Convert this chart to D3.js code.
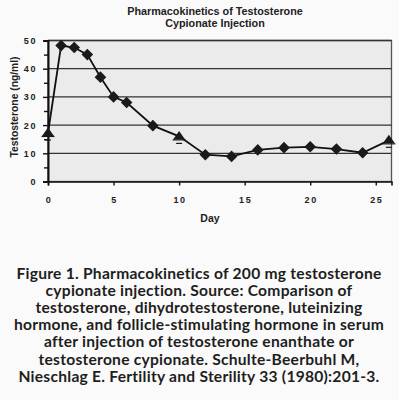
<!DOCTYPE html>
<html>
<head>
<meta charset="utf-8">
<script src="https://cdn.jsdelivr.net/npm/d3@7"></script>
<style>
  html, body { margin: 0; padding: 0; background: #fafafa; }
  svg { display: block; }
</style>
</head>
<body>
<svg id="chart" width="399" height="400"></svg>
<script>
// datos
const dias = [0, 1, 2, 3, 4, 5, 6, 8, 10, 12, 14, 16, 18, 20, 22, 24, 26];
const testosterona = [17.2, 48.2, 47.5, 45.0, 37.0, 30.0, 28.0, 19.8, 16.0, 9.5, 8.9, 11.2, 12.0, 12.3, 11.5, 10.2, 14.6];
const diasTriangulo = [0, 10, 26];
const ticksY = [0, 10, 20, 30, 40, 50];
const ticksYMenores = [5, 15, 25, 35, 45];
const ticksX = [0, 5, 10, 15, 20, 25];
const titulo = ["Pharmacokinetics of Testosterone", "Cypionate Injection"];
const leyenda = [
  "Figure 1. Pharmacokinetics of 200 mg testosterone",
  "cypionate injection. Source: Comparison of",
  "testosterone, dihydrotestosterone, luteinizing",
  "hormone, and follicle-stimulating hormone in serum",
  "after injection of testosterone enanthate or",
  "testosterone cypionate. Schulte-Beerbuhl M,",
  "Nieschlag E. Fertility and Sterility 33 (1980):201-3."
];

const svg = d3.select("#chart");
const x = d3.scaleLinear().domain([0, 26.2]).range([48, 391.5]);
const y = d3.scaleLinear().domain([0, 50]).range([181.5, 40.5]);

// fondo del area de trazado
svg.append("rect")
  .attr("x", x(0)).attr("y", y(50))
  .attr("width", x(26.2) - x(0)).attr("height", y(0) - y(50))
  .attr("fill", "#ebebeb")
  .attr("stroke", "#555").attr("stroke-width", 1.3);

// lineas de cuadricula
svg.selectAll(".grid").data(ticksY.filter(d => d > 0)).enter().append("line")
  .attr("class", "grid")
  .attr("x1", x(0)).attr("x2", x(26.2))
  .attr("y1", d => y(d)).attr("y2", d => y(d))
  .attr("stroke", "#333").attr("stroke-width", 1.3);

// ejes
svg.append("g").attr("transform", "translate(" + x(0) + ",0)")
  .call(d3.axisLeft(y).tickValues(ticksY).tickSize(5).tickFormat(""));
svg.append("g").attr("transform", "translate(" + x(0) + ",0)")
  .call(d3.axisLeft(y).tickValues(ticksYMenores).tickSize(4).tickFormat(""));
svg.append("g").attr("transform", "translate(0," + y(0) + ")")
  .call(d3.axisBottom(x).tickValues(ticksX).tickSize(4).tickFormat(""));
svg.selectAll(".domain").attr("stroke", "#111").attr("stroke-width", 1.6);
svg.selectAll(".tick line").attr("stroke", "#111").attr("stroke-width", 1.4);

// etiquetas de ticks
svg.selectAll(".ylab").data(ticksY).enter().append("text")
  .attr("x", 37).attr("y", d => y(d) + 3.5)
  .attr("text-anchor", "end")
  .style("font", "bold 9px 'Liberation Sans', Arial, sans-serif")
  .style("letter-spacing", "1.6px")
  .attr("fill", "#222")
  .text(d => d);

svg.selectAll(".xlab").data(ticksX).enter().append("text")
  .attr("x", d => x(d) + 1).attr("y", 203)
  .attr("text-anchor", "middle")
  .style("font", "bold 9px 'Liberation Sans', Arial, sans-serif")
  .style("letter-spacing", "1.6px")
  .attr("fill", "#222")
  .text(d => d);

// titulos de ejes
svg.append("text")
  .attr("transform", "translate(18,107) rotate(-90)")
  .attr("text-anchor", "middle")
  .style("font", "bold 10.3px 'Liberation Sans', Arial, sans-serif")
  .attr("fill", "#222")
  .text("Testosterone (ng/ml)");

svg.append("text")
  .attr("x", 210).attr("y", 222)
  .attr("text-anchor", "middle")
  .style("font", "bold 10.5px 'Liberation Sans', Arial, sans-serif")
  .attr("fill", "#222")
  .text("Day");

// titulo
svg.selectAll(".titulo").data(titulo).enter().append("text")
  .attr("x", 215).attr("y", (d, i) => 15 + i * 11.5)
  .attr("text-anchor", "middle")
  .style("font", "bold 10.8px 'Liberation Sans', Arial, sans-serif")
  .attr("fill", "#222")
  .text(d => d);

// serie
const puntos = dias.map((d, i) => ({ dia: d, valor: testosterona[i] }));
const linea = d3.line().x(d => x(d.dia)).y(d => y(d.valor));
svg.append("path")
  .datum(puntos)
  .attr("d", linea)
  .attr("fill", "none")
  .attr("stroke", "#111")
  .attr("stroke-width", 1.8);

const rombos = puntos.filter(d => !diasTriangulo.includes(d.dia));
const triangulos = puntos.filter(d => diasTriangulo.includes(d.dia));

svg.selectAll(".rombo").data(rombos).enter().append("path")
  .attr("class", "rombo")
  .attr("transform", d => "translate(" + x(d.dia) + "," + y(d.valor) + ")")
  .attr("d", "M0,-5.8L5.8,0L0,5.8L-5.8,0Z")
  .attr("fill", "#1a1a1a");

const tri = svg.selectAll(".tri").data(triangulos).enter().append("g")
  .attr("transform", d => "translate(" + x(d.dia) + "," + y(d.valor) + ")");
tri.append("path")
  .attr("d", "M0,-5.5L6,3L-6,3Z")
  .attr("fill", "#1a1a1a");
tri.append("line")
  .attr("x1", -6.5).attr("x2", 6.5).attr("y1", 3.5).attr("y2", 3.5)
  .attr("stroke", "#1a1a1a").attr("stroke-width", 1.2);
tri.append("line")
  .attr("x1", -3).attr("x2", 3).attr("y1", 7).attr("y2", 7)
  .attr("stroke", "#1a1a1a").attr("stroke-width", 1.2);

// pie de figura
svg.selectAll(".leyenda").data(leyenda).enter().append("text")
  .attr("x", 199).attr("y", (d, i) => 278.5 + i * 17.2)
  .attr("text-anchor", "middle")
  .style("font", "bold 15.6px Lato, 'Noto Sans', sans-serif")
  .style("letter-spacing", "0.25px")
  .attr("fill", "#1e1e1e")
  .text(d => d);
</script>
</body>
</html>
